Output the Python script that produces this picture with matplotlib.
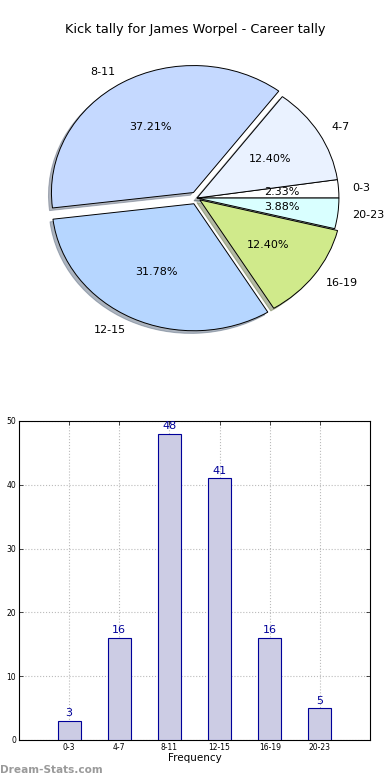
#!/usr/bin/env python3

import matplotlib
matplotlib.use("Agg")
import matplotlib.pyplot as plt

# kick tally data.
bins = ["0-3", "4-7", "8-11", "12-15", "16-19", "20-23"]
counts = [3, 16, 48, 41, 16, 5]
explode = [0, 0, 0.05, 0.05, 0.025, 0]
pie_colors = ["#FFFFFF", "#EAF2FF", "#C5D9FF", "#B6D6FF", "#D0EA8B", "#D9FFFF"]
yticks = [0, 10, 20, 30, 40, 50]

fig = plt.figure(figsize=(3.9, 7.8), dpi=100)

# pie of kick bins.
ax1 = fig.add_axes([0.05, 0.5426, 0.91, 0.407])
wedges, texts, autotexts = ax1.pie(counts, labels=bins, colors=pie_colors, explode=explode,
                                   autopct="%.2f%%", startangle=0,
                                   shadow={"ox": -0.015, "oy": -0.015, "shade": 0.5},
                                   wedgeprops={"edgecolor": "black", "linewidth": 0.7},
                                   textprops={"fontsize": 8})
ax1.set_aspect("auto")
ax1.set_xlim(-1.25, 1.25)
ax1.set_ylim(-1.25, 1.25)
fig.text(0.5, 0.962, "Kick tally for James Worpel - Career tally", ha="center", va="center", fontsize=9.3)

# bar chart of frequencies.
ax2 = fig.add_axes([0.0487, 0.0513, 0.9, 0.409])
x = list(range(len(bins)))
ax2.bar(x, counts, width=0.46, color="#CCCCE4", edgecolor="#000099", linewidth=0.8, zorder=3)
for xi, c in zip(x, counts):
    ax2.text(xi, c + 0.4, str(c), ha="center", va="bottom", color="#000099", fontsize=8, zorder=4)
ax2.set_xlim(-1, 6)
ax2.set_ylim(0, 50)
ax2.set_xticks(x)
ax2.set_xticklabels(bins)
ax2.set_yticks(yticks)
ax2.tick_params(direction="in", top=True, right=True, labelsize=5.5, length=3, width=0.5, pad=2)
ax2.grid(True, linestyle=":", color="#BBBBBB", linewidth=0.8, zorder=0)
ax2.set_xlabel("Frequency", fontsize=7.5, labelpad=1)
for s in ax2.spines.values():
    s.set_linewidth(0.8)

# watermark.
fig.text(0.0, 0.013, "Dream-Stats.com", ha="left", va="center", fontsize=7.6, fontweight="bold", color="#9A9A9A")

fig.savefig("out.png", dpi=100)
